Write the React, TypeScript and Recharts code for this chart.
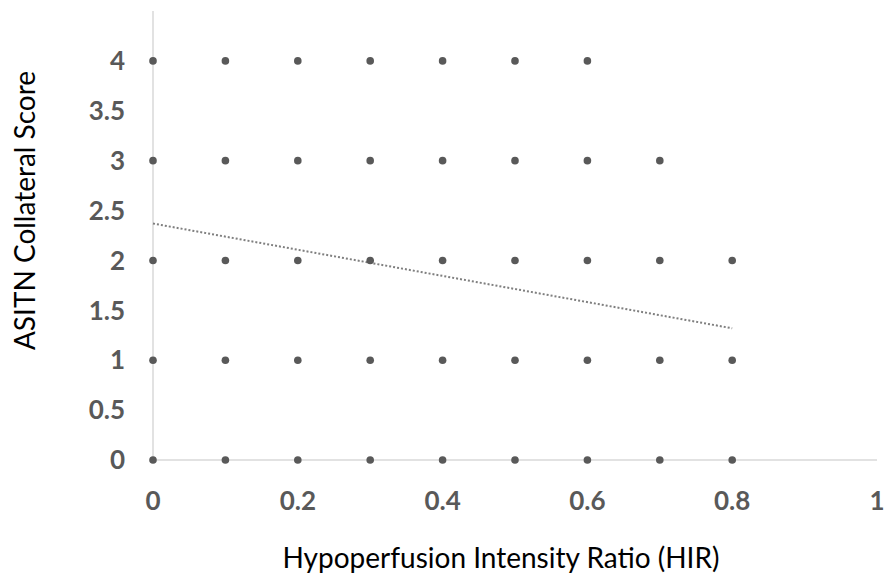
import { ScatterChart, Scatter, XAxis, YAxis } from 'recharts';

// HIR values observed at each collateral score level
const score4 = [0, 0.1, 0.2, 0.3, 0.4, 0.5, 0.6];
const score3 = [0, 0.1, 0.2, 0.3, 0.4, 0.5, 0.6, 0.7];
const score2 = [0, 0.1, 0.2, 0.3, 0.4, 0.5, 0.6, 0.7, 0.8];
const score1 = [0, 0.1, 0.2, 0.3, 0.4, 0.5, 0.6, 0.7, 0.8];
const score0 = [0, 0.1, 0.2, 0.3, 0.4, 0.5, 0.6, 0.7, 0.8];

// linear trendline endpoints
const trendX = [0, 0.8];
const trendY = [2.37, 1.32];

const xTicks = [0, 0.2, 0.4, 0.6, 0.8, 1];
const yTicks = [0, 0.5, 1, 1.5, 2, 2.5, 3, 3.5, 4];

const levels: [number, number[]][] = [
  [4, score4],
  [3, score3],
  [2, score2],
  [1, score1],
  [0, score0],
];

const points = levels.flatMap(([y, xs]) => xs.map(x => ({ x, y })));
const trend = trendX.map((x, i) => ({ x, y: trendY[i] }));

const tickStyle = { fontSize: 26, fontWeight: 700, fill: '#595959', fontFamily: 'Lato' };
const titleFont = 'Lato';

export default function App() {
  return (
    <div style={{ position: 'absolute', left: 0, top: 0, background: '#fff' }}>
      <ScatterChart
        width={888}
        height={576}
        margin={{ top: 11, right: 11, bottom: 56, left: 0 }}
      >
        <XAxis
          type="number"
          dataKey="x"
          domain={[0, 1]}
          ticks={xTicks}
          tick={tickStyle}
          tickLine={false}
          axisLine={{ stroke: '#d9d9d9', strokeWidth: 1.5 }}
          tickMargin={26}
          height={60}
          label={{
            value: 'Hypoperfusion Intensity Ratio (HIR)',
            position: 'insideBottom',
            offset: -48,
            dx: -14,
            style: { fontSize: 28, fill: '#000', fontFamily: titleFont },
          }}
        />
        <YAxis
          type="number"
          dataKey="y"
          domain={[0, 4.5]}
          ticks={yTicks}
          tick={tickStyle}
          tickLine={false}
          axisLine={{ stroke: '#d9d9d9', strokeWidth: 1.5 }}
          tickMargin={22}
          width={153}
          label={{
            value: 'ASITN Collateral Score',
            angle: -90,
            position: 'insideLeft',
            offset: 25,
            dy: -25,
            style: { fontSize: 28, fill: '#000', fontFamily: titleFont, textAnchor: 'middle' },
          }}
        />
        <Scatter
          data={trend}
          line={{ stroke: '#7f7f7f', strokeWidth: 2, strokeDasharray: '2 2' }}
          shape={() => null}
          isAnimationActive={false}
        />
        <Scatter
          data={points}
          fill="#595959"
          shape={(p: any) => <circle cx={p.cx} cy={p.cy} r={3.8} fill="#595959" />}
          isAnimationActive={false}
        />
      </ScatterChart>
    </div>
  );
}
